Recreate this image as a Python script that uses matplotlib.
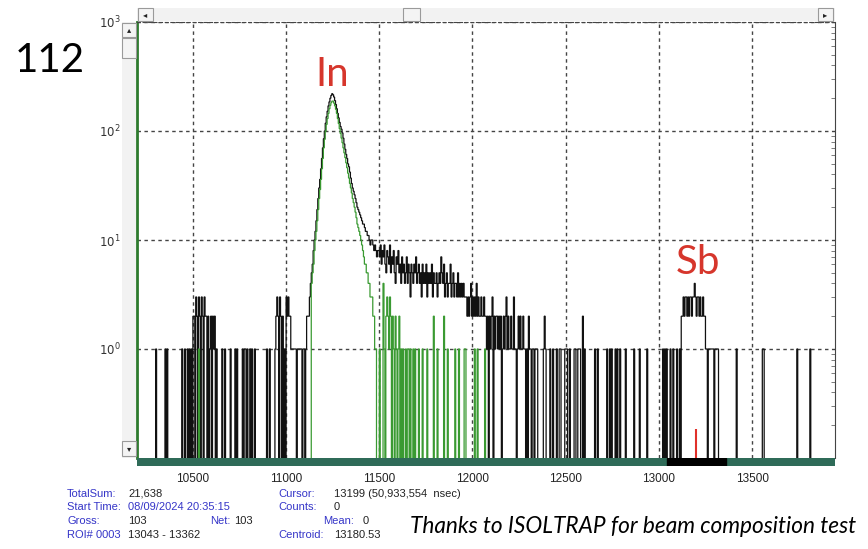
import numpy as np
import matplotlib
matplotlib.use('Agg')
import matplotlib.pyplot as plt
from matplotlib.patches import Rectangle

W, H = 868, 549

# spectrum binning (channels)
BIN = 5
X0, X1 = 10200, 13945

# black spectrum: contiguous run around the In peak, starting at channel 11110
black_run_start = 11110
black_run = [
    2, 2, 2, 3, 4, 5, 6, 8, 10, 12,
    15, 19, 24, 30, 36, 45, 56, 70, 85, 100,
    118, 135, 152, 170, 185, 200, 212, 220, 215, 205,
    190, 175, 160, 145, 132, 120, 110, 104, 96, 86,
    76, 68, 61, 56, 50, 47, 42, 37, 33, 30,
    28, 26, 24, 22, 20, 19, 18, 17, 16, 15,
    14, 14, 13, 12, 12, 11, 11, 10, 9, 10,
    10, 9, 8, 9, 8, 7, 8, 8, 7, 9,
    6, 8, 7, 9, 6, 5, 8, 7, 6, 9,
    5, 7, 6, 8, 5, 4, 7, 6, 8, 5,
    6, 4, 7, 5, 6, 4, 5, 7, 4, 6,
    5, 3, 6, 5, 4, 6, 5, 7, 4, 5,
    6, 4, 5, 3, 6, 4, 5, 4, 6, 3,
    5, 4, 5, 4, 6, 3, 5, 4, 4, 5,
    3, 4, 5, 4, 7, 5, 4, 6, 3, 4,
    5, 3, 4, 4, 6, 3, 4, 5, 3, 4,
    4, 3, 5, 3, 4, 3, 4, 3, 4, 3,
    3, 3, 2, 3, 2, 3, 4, 2, 3, 2,
    3, 2, 4, 2, 3, 2, 2, 3, 2, 2,
    3, 2, 2, 1, 2, 0, 2, 1, 2, 3,
    0, 2, 1, 2, 2, 1, 2, 1, 2, 0,
    1, 2, 1, 2, 3, 1, 2, 1, 1, 2,
    1, 1, 3, 1, 1, 0, 1, 2, 1, 2,
    1, 1, 2, 1, 1, 0, 1, 0, 2, 1,
    1, 0, 1, 1, 0, 1, 1, 1,
]

# black spectrum: isolated channels (channel, counts)
black_ch = [10300, 10350, 10360, 10440, 10455, 10470, 10480, 10490,
            10500, 10505, 10515, 10520, 10530, 10535, 10545, 10550, 10560, 10565,
            10570, 10580, 10590, 10595, 10605, 10610, 10615, 10625,
            10655, 10670, 10700, 10725, 10735, 10765, 10775, 10780, 10790, 10805,
            10815, 10830, 10895, 10910, 10940,
            10945, 10950, 10955, 10965, 10970, 10980, 10990, 11000, 11005, 11010,
            11015, 11020, 11025, 11030, 11035, 11040, 11045, 11050,
            11060, 11065, 11070, 11075, 11080, 11090, 11095, 11105,
            12380, 12385, 12390, 12415, 12430, 12450, 12465, 12470, 12495, 12500,
            12505, 12520, 12545, 12550, 12565, 12570, 12575, 12590, 12600, 12655,
            12670, 12720, 12735, 12745, 12765, 12775, 12790, 12820, 12865, 12895,
            12935, 13020, 13030, 13040, 13060, 13075, 13095, 13110,
            13120, 13125, 13130, 13135, 13140, 13145, 13150, 13155, 13160, 13165,
            13170, 13175, 13180, 13185, 13190, 13195, 13200, 13205, 13210, 13215,
            13220, 13225, 13230, 13235, 13240, 13245, 13250, 13255, 13265, 13270,
            13275, 13280, 13285, 13290, 13300, 13305, 13310, 13315,
            13415, 13555, 13560, 13740, 13810]
black_n = [1, 1, 1, 1, 1, 1, 1, 1,
           2, 2, 3, 2, 3, 2, 3, 2, 3, 2,
           2, 2, 1, 2, 2, 1, 2, 1,
           1, 1, 1, 1, 1, 1, 1, 1, 1, 1,
           1, 1, 1, 1, 1,
           2, 3, 2, 3, 2, 2, 1, 3, 2, 3,
           2, 2, 1, 1, 1, 1, 1, 1,
           1, 1, 1, 1, 1, 1, 1, 1,
           1, 2, 1, 1, 1, 1, 1, 1, 1, 1,
           1, 1, 1, 1, 1, 1, 1, 2, 1, 1,
           1, 1, 1, 1, 1, 1, 1, 1, 1, 1,
           1, 1, 1, 1, 1, 1, 1, 1,
           2, 2, 3, 2, 3, 3, 2, 3, 2, 3,
           3, 2, 3, 3, 4, 3, 2, 3, 3, 2,
           3, 2, 2, 3, 2, 2, 1, 1, 1, 1,
           1, 1, 1, 1, 1, 1, 1, 1,
           1, 1, 1, 1, 1]

# green spectrum: contiguous run from channel 11135
green_run_start = 11135
green_run = [
    4, 5, 6, 8, 10, 12, 15, 19, 24, 29,
    36, 45, 56, 70, 84, 100, 115, 130, 145, 160,
    172, 182, 188, 188, 180, 170, 158, 145, 130, 117,
    105, 95, 86, 78, 70, 63, 57, 51, 46, 41,
    37, 33, 30, 27, 24, 22, 20, 18, 16, 14,
    13, 12, 11, 10, 9, 8, 7, 6, 6, 5,
    5, 4, 4, 3, 3, 3, 2, 2, 1, 1,
]
green_ch = [10530, 11500, 11520, 11525, 11535, 11540, 11545, 11550, 11555, 11560,
            11570, 11575, 11585, 11590, 11600, 11605, 11615, 11625, 11640, 11650,
            11655, 11665, 11680, 11690, 11710, 11730, 11755, 11790, 11810, 11845,
            11865, 11905, 11925, 11955, 11960, 12010, 12025, 12065]
green_n = [1, 1, 4, 1, 2, 3, 2, 1, 3, 2,
           2, 1, 2, 1, 1, 2, 1, 1, 1, 1,
           1, 1, 1, 1, 1, 1, 1, 2, 1, 2,
           1, 1, 1, 1, 1, 1, 1, 1]

xticks = [10500, 11000, 11500, 12000, 12500, 13000, 13500]
yticks = [1, 10, 100, 1000]
ytick_labels = ['$10^0$', '$10^1$', '$10^2$', '$10^3$']

cursor_ch = 13199
roi = (13043, 13362)

info_left = [('TotalSum:', '21,638'), ('Start Time:', '08/09/2024 20:35:15'),
             ('Gross:', '103'), ('ROI# 0003', '13043 - 13362')]
info_right = [('Cursor:', '13199 (50,933,554  nsec)'), ('Counts:', '0'),
              ('', ''), ('Centroid:', '13180.53')]


def build(run_start, run, chs, ns):
    edges = np.arange(X0, X1 + 2 * BIN, BIN)
    counts = np.zeros(len(edges) - 1)
    i0 = (run_start - X0) // BIN
    counts[i0:i0 + len(run)] = run
    for c, n in zip(chs, ns):
        counts[(c - X0) // BIN] = n
    return edges, counts


def fx(px):
    return px / W


def fy(py):
    return 1 - py / H


def px_rect(fig, x0, y0, x1, y1, **kw):
    fig.add_artist(Rectangle((fx(x0), fy(y1)), (x1 - x0) / W, (y1 - y0) / H,
                             transform=fig.transFigure, **kw))


fig = plt.figure(figsize=(W / 100, H / 100), dpi=100)
fig.patch.set_facecolor('white')

ax = fig.add_axes([fx(137), fy(458), (835 - 137) / W, (458 - 22) / H])
bax = fig.add_axes([fx(137), fy(466), (835 - 137) / W, 8 / H], sharex=ax)

edges, black = build(black_run_start, black_run, black_ch, black_n)
_, green = build(green_run_start, green_run, green_ch, green_n)

# zeros drawn below the axis so that the lines run to the bottom
ax.stairs(np.where(black > 0, black, 0.02), edges, baseline=None,
          color='#111111', lw=0.9, zorder=3)
ax.stairs(np.where(green > 0, green, 0.02), edges, baseline=None,
          color='#3a9a32', lw=0.9, zorder=4)
ax.vlines(cursor_ch, 0.1, 0.185, color='#e0302a', lw=1.5, zorder=5)

ax.set_yscale('log')
ax.set_ylim(0.1, 1000)
ax.set_xlim(X0, X1)
ax.set_xticks(xticks)
ax.set_yticks(yticks)
ax.set_yticklabels(ytick_labels)
ax.tick_params(axis='x', length=0, labelbottom=False)
ax.tick_params(axis='y', which='major', length=0, pad=12, labelsize=8.5,
               labelcolor='#333333')
ax.tick_params(axis='y', which='minor', left=False, right=True,
               direction='in', length=3, color='#666666')
ax.grid(True, which='major', color='#444444', lw=1, ls=(0, (2.5, 2.5)))
ax.spines['left'].set_color('#2d7a2d')
ax.spines['left'].set_linewidth(2)
ax.spines['right'].set_color('#444444')
ax.spines['top'].set_linestyle((0, (2.5, 2.5)))
ax.spines['top'].set_color('#444444')
ax.spines['bottom'].set_visible(False)

# ROI bar under the spectrum
bax.axvspan(X0, X1, color='#2f6b58')
bax.axvspan(roi[0], roi[1], color='black')
bax.set_ylim(0, 1)
bax.set_yticks([])
for s in bax.spines.values():
    s.set_visible(False)
bax.set_xticks(xticks)
bax.set_xticklabels([str(t) for t in xticks], fontsize=8.5, color='#222222',
                    family='Liberation Sans')
bax.tick_params(axis='x', length=0, pad=5)

# scroll bars of the acquisition window
px_rect(fig, 137, 8, 835, 21, facecolor='#f2f2f2', edgecolor='none')
for x0, x1, sym in [(138, 153, '◂'), (403, 420, ''), (818, 833, '▸')]:
    px_rect(fig, x0, 8, x1, 21, facecolor='#f4f4f4', edgecolor='#9a9a9a', lw=0.8)
    if sym:
        fig.text(fx((x0 + x1) / 2), fy(14.5), sym, fontsize=6, ha='center',
                 va='center', color='#222222')
px_rect(fig, 122, 22, 136, 458, facecolor='#f2f2f2', edgecolor='none')
for y0, y1, sym in [(23, 37, '▴'), (38, 58, ''), (441, 456, '▾')]:
    px_rect(fig, 122, y0, 136, y1, facecolor='#f4f4f4', edgecolor='#9a9a9a', lw=0.8)
    if sym:
        fig.text(fx(129), fy((y0 + y1) / 2), sym, fontsize=6, ha='center',
                 va='center', color='#222222')

# annotations
fig.text(fx(15), fy(72), '112', fontsize=29, family='Lato', color='black')
fig.text(fx(332), fy(86), 'In', fontsize=29, family='Lato', color='#d6362c',
         ha='center')
fig.text(fx(698), fy(274), 'Sb', fontsize=29, family='Lato', color='#d6362c',
         ha='center')
fig.text(fx(410), fy(533), 'Thanks to ISOLTRAP for beam composition test',
         fontsize=16.3, family='Lato', style='italic', color='black')

# status lines
blue = '#3535c8'
fs = 8
rows = [494, 507.5, 521, 534.5]
for (lab, val), y in zip(info_left, rows):
    fig.text(fx(67), fy(y), lab, fontsize=fs, color=blue, va='center',
             family='Liberation Sans')
    vcol = blue if lab.startswith('Start') else '#222222'
    fig.text(fx(128), fy(y), val, fontsize=fs, color=vcol, va='center',
             family='Liberation Sans')
fig.text(fx(210), fy(521), 'Net:', fontsize=fs, color=blue, va='center',
         family='Liberation Sans')
fig.text(fx(234), fy(521), '103', fontsize=fs, color='#222222', va='center',
         family='Liberation Sans')
for (lab, val), y in zip(info_right, rows):
    if lab:
        fig.text(fx(278), fy(y), lab, fontsize=fs, color=blue, va='center',
                 family='Liberation Sans')
        fig.text(fx(334), fy(y), val, fontsize=fs, color='#222222', va='center',
                 family='Liberation Sans')
fig.text(fx(323), fy(521), 'Mean:', fontsize=fs, color=blue, va='center',
         family='Liberation Sans')
fig.text(fx(363), fy(521), '0', fontsize=fs, color='#222222', va='center',
         family='Liberation Sans')

fig.savefig('out.png', dpi=100)
